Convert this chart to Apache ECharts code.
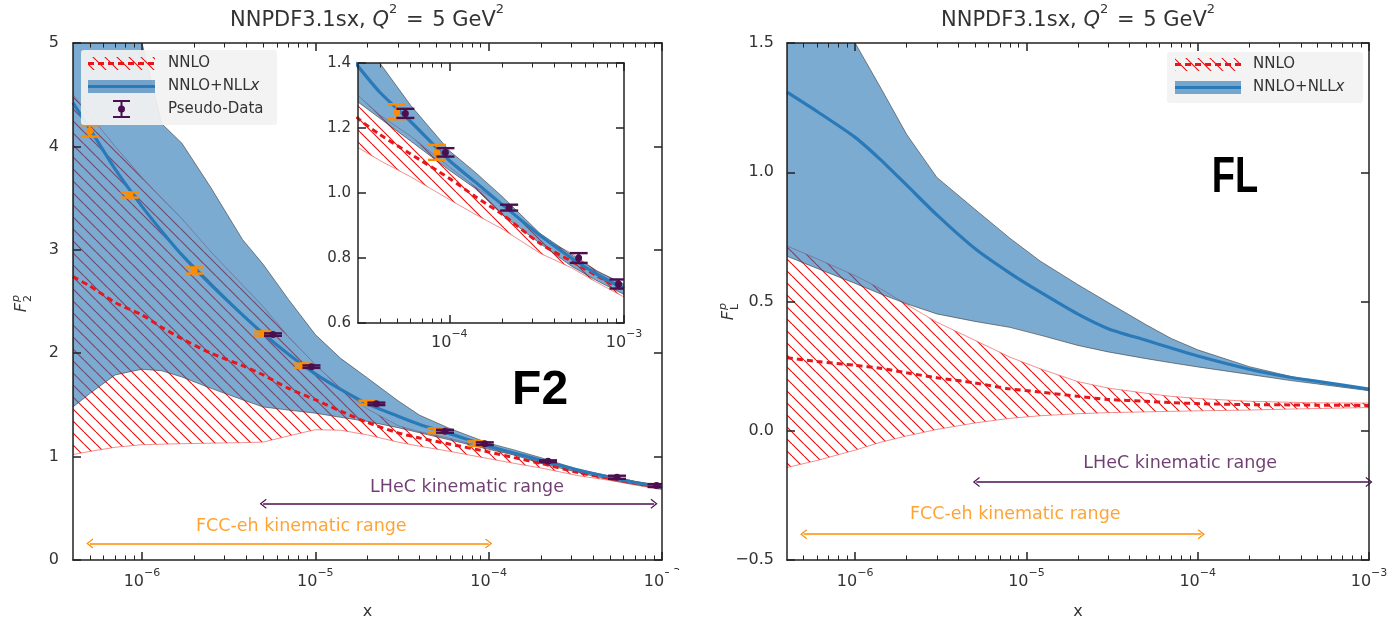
<!DOCTYPE html>
<html><head><meta charset="utf-8">
<script src="https://cdn.jsdelivr.net/npm/echarts@6/dist/echarts.min.js"></script>
<style>html,body{margin:0;padding:0;background:#fff}#c{width:1393px;height:625px}</style>
</head><body><div id="c"></div>
<script>
// ---------------- data ----------------
// F2 panel
const f2X      = [4e-7, 5e-7, 7e-7, 1e-6, 1.3e-6, 1.7e-6, 2.5e-6, 3.8e-6, 5e-6, 7e-6, 1e-5, 1.4e-5, 2e-5, 3e-5, 4e-5, 6e-5, 1e-4, 1.4e-4, 2e-4, 3.3e-4, 5e-4, 7e-4, 1e-3];
const f2NnloCv = [2.74, 2.65, 2.49, 2.37, 2.25, 2.14, 2.00, 1.88, 1.79, 1.66, 1.55, 1.44, 1.33, 1.23, 1.18, 1.12, 1.045, 0.99, 0.935, 0.845, 0.79, 0.745, 0.70];
const f2NnloLo = [1.02, 1.05, 1.09, 1.115, 1.12, 1.125, 1.13, 1.135, 1.14, 1.20, 1.26, 1.255, 1.21, 1.14, 1.10, 1.05, 0.98, 0.935, 0.89, 0.815, 0.77, 0.725, 0.68];
const f2NnloHi = [4.50, 4.30, 4.00, 3.70, 3.50, 3.30, 2.98, 2.66, 2.45, 2.16, 1.89, 1.66, 1.46, 1.30, 1.24, 1.175, 1.08, 1.02, 0.965, 0.865, 0.815, 0.76, 0.715];
const f2NllCv  = [4.42, 4.17, 3.78, 3.42, 3.18, 2.95, 2.66, 2.37, 2.19, 1.99, 1.80, 1.65, 1.51, 1.39, 1.31, 1.22, 1.10, 1.035, 0.965, 0.87, 0.80, 0.75, 0.705];
const f2NllLo  = [1.48, 1.61, 1.79, 1.845, 1.83, 1.77, 1.66, 1.55, 1.48, 1.45, 1.42, 1.38, 1.34, 1.28, 1.23, 1.16, 1.07, 1.015, 0.935, 0.845, 0.775, 0.73, 0.688];
const f2NllHi  = [6.2, 5.95, 5.5, 5.0, 4.22, 4.03, 3.60, 3.10, 2.86, 2.52, 2.18, 1.95, 1.76, 1.54, 1.40, 1.27, 1.13, 1.065, 0.99, 0.876, 0.81, 0.76, 0.72];

// pseudo-data
const fccX   = [5e-7, 8.5e-7, 2e-6, 5e-6, 8.5e-6, 2e-5, 5e-5, 8.5e-5];
const fccY   = [4.15, 3.53, 2.80, 2.19, 1.88, 1.52, 1.25, 1.125];
const fccErr = [0.055, 0.025, 0.03, 0.02, 0.02, 0.02, 0.023, 0.023];
const lhecX   = [5.7e-6, 9.5e-6, 2.25e-5, 5.6e-5, 9.5e-5, 2.2e-4, 5.5e-4, 9.3e-4];
const lhecY   = [2.18, 1.87, 1.51, 1.245, 1.125, 0.955, 0.80, 0.72];
const lhecErr = [0.012, 0.012, 0.012, 0.014, 0.013, 0.009, 0.015, 0.014];

// FL panel
const flX      = [4e-7, 6e-7, 1e-6, 1.4e-6, 2e-6, 3e-6, 5e-6, 8e-6, 1.2e-5, 2e-5, 3e-5, 5e-5, 7e-5, 1e-4, 2e-4, 3.5e-4, 5e-4, 1e-3];
const flNllCv  = [1.31, 1.235, 1.135, 1.05, 0.95, 0.835, 0.705, 0.61, 0.537, 0.451, 0.395, 0.35, 0.32, 0.289, 0.238, 0.206, 0.191, 0.161];
const flNllHi  = [2.05, 1.80, 1.50, 1.33, 1.146, 0.98, 0.857, 0.745, 0.657, 0.565, 0.496, 0.41, 0.357, 0.313, 0.248, 0.21, 0.19, 0.163];
const flNllLo  = [0.675, 0.628, 0.57, 0.53, 0.491, 0.452, 0.423, 0.40, 0.37, 0.33, 0.305, 0.279, 0.263, 0.247, 0.218, 0.194, 0.181, 0.155];
const flNnloCv = [0.282, 0.268, 0.253, 0.242, 0.224, 0.205, 0.185, 0.162, 0.15, 0.133, 0.121, 0.114, 0.109, 0.105, 0.101, 0.1, 0.099, 0.098];
const flNnloHi = [0.715, 0.665, 0.60, 0.55, 0.488, 0.42, 0.35, 0.285, 0.24, 0.19, 0.165, 0.145, 0.133, 0.125, 0.114, 0.11, 0.108, 0.107];
const flNnloLo = [-0.142, -0.115, -0.075, -0.045, -0.02, 0.005, 0.03, 0.048, 0.058, 0.066, 0.07, 0.073, 0.075, 0.077, 0.08, 0.084, 0.086, 0.09];

// axis ticks
const decadeTicks = [1e-6, 1e-5, 1e-4, 1e-3];
const insetDecades = [1e-4, 1e-3];
const mainXRange = [4e-7, 1e-3];
const insetXRange = [3e-5, 1e-3];

// ---------------- styling ----------------
const FONT = '"DejaVu Sans", sans-serif';
const TXT = '#333';
const AX = '#222';
const RED = '#e8161b';
const BLUE = '#2a7ab9';
const BLUE_FILL = 'rgba(30,110,175,0.58)';
const ORANGE = '#ff8c00';
const PURPLE = '#4b0f50';

function minorTicks(lo, hi) {
  const out = [];
  for (let e = -8; e <= -3; e++) for (let k = 2; k <= 9; k++) {
    const v = k * Math.pow(10, e);
    if (v > lo * 1.0001 && v < hi * 0.9999) out.push(v);
  }
  return out;
}

function makeHatch(color, s, w) {
  const c = document.createElement('canvas');
  c.width = s; c.height = s;
  const ctx = c.getContext('2d');
  ctx.strokeStyle = color; ctx.lineWidth = w;
  ctx.beginPath();
  [-s, 0, s].forEach(k => { ctx.moveTo(k, 0); ctx.lineTo(k + s, s); });
  ctx.stroke();
  return c;
}
const hatch = { image: makeHatch('rgba(232,10,10,0.95)', 12, 1.2), repeat: 'repeat' };

const expFmt = v => '{b|10}{s|\u2212' + Math.round(-Math.log10(v)) + '}';
const expRich = {
  b: { fontSize: 16, color: TXT, fontFamily: FONT, lineHeight: 22, verticalAlign: 'bottom' },
  s: { fontSize: 11, color: TXT, fontFamily: FONT, lineHeight: 10, verticalAlign: 'top' }
};

function xAxesFor(grid, range, majors, z, withName, labelMargin) {
  const base = { type: 'log', logBase: 10, gridIndex: grid, min: range[0], max: range[1], splitLine: { show: false }, z: z };
  const minors = minorTicks(range[0], range[1]);
  const line = { show: true, onZero: false, lineStyle: { color: AX, width: 1.5 } };
  const majTick = { show: true, inside: true, length: 8, customValues: majors, lineStyle: { color: AX, width: 1.5 } };
  const minTick = { show: true, inside: true, length: 4.5, customValues: minors, lineStyle: { color: AX, width: 1 } };
  const main = Object.assign({}, base, {
    position: 'bottom', axisLine: line, axisTick: majTick,
    axisLabel: { show: true, customValues: majors, formatter: expFmt, rich: expRich, margin: labelMargin }
  });
  if (withName) {
    main.name = 'x'; main.nameLocation = 'middle'; main.nameGap = 44;
    main.nameTextStyle = { fontSize: 16, color: TXT, fontFamily: FONT };
  }
  return [
    main,
    Object.assign({}, base, { position: 'bottom', axisLine: { show: false, onZero: false }, axisTick: minTick, axisLabel: { show: false } }),
    Object.assign({}, base, { position: 'top', axisLine: line, axisTick: majTick, axisLabel: { show: false } }),
    Object.assign({}, base, { position: 'top', axisLine: { show: false, onZero: false }, axisTick: minTick, axisLabel: { show: false } })
  ];
}

function yAxesFor(grid, min, max, interval, fmt, z, fontSize, margin) {
  const line = { show: true, onZero: false, lineStyle: { color: AX, width: 1.5 } };
  const tick = { show: true, inside: true, length: 8, lineStyle: { color: AX, width: 1.5 } };
  const base = { type: 'value', gridIndex: grid, min, max, interval, splitLine: { show: false }, axisLine: line, axisTick: tick, z: z };
  return [
    Object.assign({}, base, { position: 'left', axisLabel: { formatter: fmt, fontSize: fontSize, color: TXT, fontFamily: FONT, margin: margin } }),
    Object.assign({}, base, { position: 'right', axisLabel: { show: false } })
  ];
}

function band(xs, lo, hi, fill, stroke, xi, yi, z) {
  return {
    type: 'custom', xAxisIndex: xi, yAxisIndex: yi, z: z, clip: true, silent: true,
    data: xs.map((x, i) => [x, lo[i], hi[i]]),
    encode: { x: 0, y: [1, 2] },
    renderItem: (params, api) => {
      if (params.dataIndex !== xs.length - 1) return null;
      const pts = [];
      for (let i = 0; i < xs.length; i++) pts.push(api.coord([xs[i], hi[i]]));
      for (let i = xs.length - 1; i >= 0; i--) pts.push(api.coord([xs[i], lo[i]]));
      return { type: 'polygon', shape: { points: pts }, style: { fill: fill, stroke: stroke, lineWidth: 0.8 } };
    }
  };
}

function curve(xs, ys, color, width, dash, xi, yi, z) {
  return {
    type: 'line', xAxisIndex: xi, yAxisIndex: yi, z: z, silent: true, clip: true,
    data: xs.map((x, i) => [x, ys[i]]), showSymbol: false, symbol: 'none', smooth: 0.25,
    lineStyle: { color: color, width: width, type: dash || 'solid' }
  };
}

function errbars(xs, ys, es, color, xi, yi, z) {
  return {
    type: 'custom', xAxisIndex: xi, yAxisIndex: yi, z: z, clip: true, silent: true,
    data: xs.map((x, i) => [x, ys[i], es[i]]),
    encode: { x: 0, y: 1 },
    renderItem: (params, api) => {
      const x = api.value(0), y = api.value(1), e = api.value(2);
      const c = api.coord([x, y]), t = api.coord([x, y + e]), b = api.coord([x, y - e]);
      const hw = 9, st = { stroke: color, lineWidth: 2.4 };
      return { type: 'group', children: [
        { type: 'line', shape: { x1: c[0], y1: t[1], x2: c[0], y2: b[1] }, style: st },
        { type: 'line', shape: { x1: c[0] - hw, y1: t[1], x2: c[0] + hw, y2: t[1] }, style: st },
        { type: 'line', shape: { x1: c[0] - hw, y1: b[1], x2: c[0] + hw, y2: b[1] }, style: st },
        { type: 'circle', shape: { cx: c[0], cy: c[1], r: 3.5 }, style: { fill: color } }
      ]};
    }
  };
}

const chev = 'path://M0,0 L7,8 L5.6,8.8 L0,2.4 L-5.6,8.8 L-7,8 Z';
function annot(xi, yi, pos, text, color, fontSize, arrow) {
  const s = {
    type: 'scatter', xAxisIndex: xi, yAxisIndex: yi, z: 4, silent: true,
    data: [pos], symbolSize: 0,
    label: { show: true, position: 'inside', formatter: text, color: color, fontSize: fontSize, fontFamily: FONT, fontWeight: 'normal' }
  };
  if (arrow) {
    s.markLine = {
      silent: true, animation: false, symbol: [chev, chev], symbolSize: [10, 7],
      label: { show: false }, lineStyle: { color: color, width: 1.6, type: 'solid' },
      data: [[{ coord: arrow[0] }, { coord: arrow[1] }]]
    };
  }
  return s;
}

function panel(xi, yi, zb, d) {
  return [
    band(d.x, d.nnloLo, d.nnloHi, hatch, 'rgba(236,90,90,0.85)', xi, yi, zb),
    band(d.x, d.nllLo, d.nllHi, BLUE_FILL, 'rgba(55,55,55,0.75)', xi, yi, zb),
    curve(d.x, d.nnloCv, RED, 3, [6, 4], xi, yi, zb + 1),
    curve(d.x, d.nllCv, BLUE, 3.2, null, xi, yi, zb + 1)
  ];
}

const f2 = { x: f2X, nnloLo: f2NnloLo, nnloHi: f2NnloHi, nnloCv: f2NnloCv, nllLo: f2NllLo, nllHi: f2NllHi, nllCv: f2NllCv };
const fl = { x: flX, nnloLo: flNnloLo, nnloHi: flNnloHi, nnloCv: flNnloCv, nllLo: flNllLo, nllHi: flNllHi, nllCv: flNllCv };

const series = [].concat(
  panel(0, 0, 2, f2),
  [errbars(fccX, fccY, fccErr, ORANGE, 0, 0, 4), errbars(lhecX, lhecY, lhecErr, PURPLE, 0, 0, 4)],
  panel(4, 2, 11, f2),
  [errbars(fccX, fccY, fccErr, ORANGE, 4, 2, 13), errbars(lhecX, lhecY, lhecErr, PURPLE, 4, 2, 13)],
  panel(8, 4, 2, fl),
  [
    annot(0, 0, [7.5e-5, 0.706], 'LHeC kinematic range', PURPLE, 17.5, [[5e-6, 0.545], [9e-4, 0.545]]),
    annot(0, 0, [8.3e-6, 0.324], 'FCC-eh kinematic range', ORANGE, 17.5, [[5e-7, 0.16], [1e-4, 0.16]]),
    annot(8, 4, [7.9e-5, -0.126], 'LHeC kinematic range', PURPLE, 17.5, [[5.1e-6, -0.198], [1e-3, -0.198]]),
    annot(8, 4, [8.6e-6, -0.324], 'FCC-eh kinematic range', ORANGE, 17.5, [[5e-7, -0.40], [1.05e-4, -0.40]])
  ]
);

const titleRich = {
  n: { fontSize: 21, color: TXT, fontFamily: FONT, fontWeight: 'normal', lineHeight: 28, verticalAlign: 'bottom' },
  i: { fontSize: 21, color: TXT, fontFamily: FONT, fontWeight: 'normal', fontStyle: 'italic', lineHeight: 28, verticalAlign: 'bottom' },
  w: { fontSize: 21, color: TXT, fontFamily: FONT, fontWeight: 'normal', lineHeight: 28, verticalAlign: 'bottom', padding: [0, 2, 0, 2] },
  s: { fontSize: 13, color: TXT, fontFamily: FONT, fontWeight: 'normal', lineHeight: 16, verticalAlign: 'top' }
};
const titleText = '{n|NNPDF3.1sx, }{i|Q}{s|2}{w| = }{n|5 GeV}{s|2}';

function txt(x, y, text, size, opts) {
  return Object.assign({ type: 'text', x: x, y: y, z: 41,
    style: Object.assign({ text: text, fill: TXT, fontSize: size, fontFamily: FONT, align: 'left', verticalAlign: 'middle' }, opts || {}) });
}
function yName(x, y, main, sup, sub) {
  return { type: 'group', x: x, y: y, rotation: Math.PI / 2, z: 30, children: [
    { type: 'text', x: 0, y: 0, style: { text: main, fill: TXT, fontSize: 16, fontStyle: 'italic', fontFamily: FONT, align: 'right', verticalAlign: 'middle' } },
    { type: 'text', x: 1, y: -6, style: { text: sup, fill: TXT, fontSize: 11, fontStyle: 'italic', fontFamily: FONT, align: 'left', verticalAlign: 'middle' } },
    { type: 'text', x: 1, y: 6, style: { text: sub, fill: TXT, fontSize: 11, fontFamily: FONT, align: 'left', verticalAlign: 'middle' } }
  ]};
}
const nllRich = { a: { fontSize: 15, fill: TXT, fontFamily: FONT }, b: { fontSize: 15, fill: TXT, fontFamily: FONT, fontStyle: 'italic' } };

const graphics = [
  // inset background
  { type: 'rect', z: 10, silent: true, shape: { x: 358, y: 63, width: 266, height: 260 }, style: { fill: '#fff' } },
  // left legend
  { type: 'rect', z: 40, shape: { x: 81, y: 50, width: 196, height: 75, r: 3 }, style: { fill: 'rgba(242,242,242,0.92)' } },
  { type: 'rect', z: 41, shape: { x: 88, y: 57, width: 67, height: 13 }, style: { fill: hatch } },
  { type: 'line', z: 41, shape: { x1: 88, y1: 63.5, x2: 155, y2: 63.5 }, style: { stroke: RED, lineWidth: 3, lineDash: [6, 4] } },
  { type: 'rect', z: 41, shape: { x: 88, y: 80, width: 67, height: 13 }, style: { fill: BLUE_FILL } },
  { type: 'line', z: 42, shape: { x1: 88, y1: 86.5, x2: 155, y2: 86.5 }, style: { stroke: BLUE, lineWidth: 3.2 } },
  { type: 'line', z: 41, shape: { x1: 121.5, y1: 101, x2: 121.5, y2: 117 }, style: { stroke: PURPLE, lineWidth: 2 } },
  { type: 'line', z: 41, shape: { x1: 113, y1: 101, x2: 130, y2: 101 }, style: { stroke: PURPLE, lineWidth: 2 } },
  { type: 'line', z: 41, shape: { x1: 113, y1: 117, x2: 130, y2: 117 }, style: { stroke: PURPLE, lineWidth: 2 } },
  { type: 'circle', z: 41, shape: { cx: 121.5, cy: 109, r: 3.5 }, style: { fill: PURPLE } },
  txt(168, 63.5, 'NNLO', 15),
  { type: 'text', x: 168, y: 86.5, z: 41, style: { text: '{a|NNLO+NLL}{b|x}', rich: nllRich, verticalAlign: 'middle', align: 'left' } },
  txt(168, 109, 'Pseudo-Data', 15),
  // right legend
  { type: 'rect', z: 40, shape: { x: 1167, y: 52, width: 196, height: 51, r: 3 }, style: { fill: 'rgba(242,242,242,0.92)' } },
  { type: 'rect', z: 41, shape: { x: 1175, y: 58, width: 66, height: 13 }, style: { fill: hatch } },
  { type: 'line', z: 41, shape: { x1: 1175, y1: 64.5, x2: 1241, y2: 64.5 }, style: { stroke: RED, lineWidth: 3, lineDash: [6, 4] } },
  { type: 'rect', z: 41, shape: { x: 1175, y: 81, width: 66, height: 13 }, style: { fill: BLUE_FILL } },
  { type: 'line', z: 42, shape: { x1: 1175, y1: 87.5, x2: 1241, y2: 87.5 }, style: { stroke: BLUE, lineWidth: 3.2 } },
  txt(1253, 64.5, 'NNLO', 15),
  { type: 'text', x: 1253, y: 87.5, z: 41, style: { text: '{a|NNLO+NLL}{b|x}', rich: nllRich, verticalAlign: 'middle', align: 'left' } },
  // y-axis names
  yName(22, 303, 'F', 'p', '2'),
  yName(729, 311, 'F', 'p', 'L'),
  // the reference crops the last tick label of the left panel
  { type: 'rect', z: 45, silent: true, shape: { x: 669, y: 570, width: 70, height: 30 }, style: { fill: '#fff' } }
];

const option = {
  backgroundColor: '#fff',
  animation: false,
  title: [
    { text: titleText, left: 367, top: 3, padding: 0, textAlign: 'center', textStyle: { fontWeight: 'normal', rich: titleRich } },
    { text: titleText, left: 1078, top: 3, padding: 0, textAlign: 'center', textStyle: { fontWeight: 'normal', rich: titleRich } }
  ],
  grid: [
    { left: 73, top: 43, width: 589, height: 522 },
    { left: 358, top: 63, width: 266, height: 260 },
    { left: 787, top: 43, width: 582, height: 522 }
  ],
  xAxis: [].concat(
    xAxesFor(0, mainXRange, decadeTicks, 5, true, 8),
    xAxesFor(1, insetXRange, insetDecades, 14, false, 6),
    xAxesFor(2, mainXRange, decadeTicks, 5, true, 8)
  ),
  yAxis: [].concat(
    yAxesFor(0, 0, 5, 1, v => String(v), 5, 16, 14),
    yAxesFor(1, 0.6, 1.4, 0.2, v => v.toFixed(1), 14, 15, 7),
    yAxesFor(2, -0.5, 1.5, 0.5, v => (v < 0 ? '\u2212' : '') + Math.abs(v).toFixed(1), 5, 16, 13)
  ),
  series: series,
  graphic: { elements: graphics }
};

const chart = echarts.init(document.getElementById('c'), null, { renderer: 'canvas' });
chart.setOption(option);

// bold panel tags, placed at data positions of their panels
const f2TagPos = chart.convertToPixel({ xAxisIndex: 0, yAxisIndex: 0 }, [1.98e-4, 1.64]);
const flTagPos = chart.convertToPixel({ xAxisIndex: 8, yAxisIndex: 4 }, [1.65e-4, 0.977]);
chart.setOption({ graphic: { elements: graphics.concat([
  { type: 'text', x: f2TagPos[0], y: f2TagPos[1], z: 30, silent: true,
    style: { text: 'F2', fill: '#000', fontSize: 48, fontWeight: 'bold', fontFamily: '"Liberation Sans", Arial, sans-serif', align: 'center', verticalAlign: 'middle' } },
  { type: 'text', x: flTagPos[0], y: flTagPos[1], scaleX: 0.76, z: 30, silent: true,
    style: { text: 'FL', fill: '#000', fontSize: 50, fontWeight: 'bold', fontFamily: '"Liberation Sans", Arial, sans-serif', align: 'center', verticalAlign: 'middle' } }
]) } });
</script></body></html>
